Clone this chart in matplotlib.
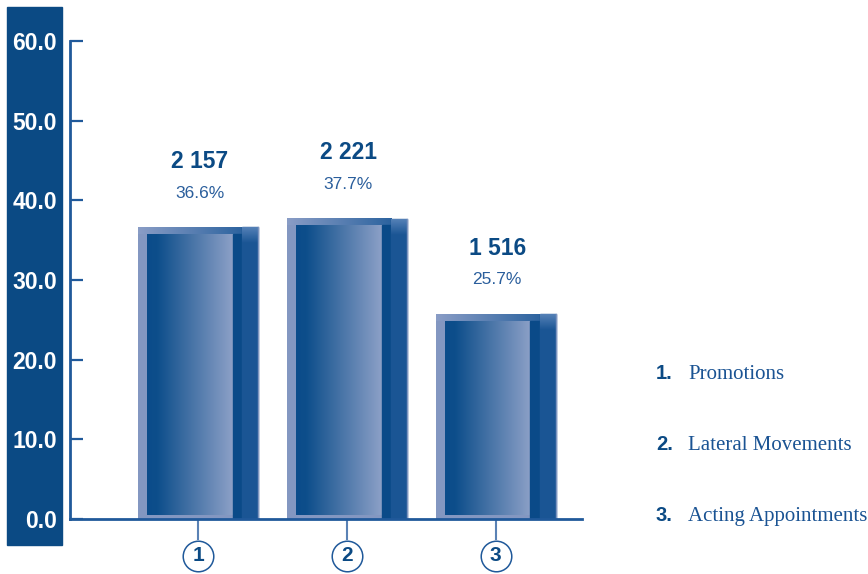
import matplotlib.pyplot as plt
import numpy as np
from matplotlib.colors import LinearSegmentedColormap
from matplotlib.patches import Rectangle

# Appointment types, counts and share of total
categories = ["Promotions", "Lateral Movements", "Acting Appointments"]
markers = ["1", "2", "3"]
shares = [36.6, 37.7, 25.7]
counts = ["2 157", "2 221", "1 516"]
yticks = [0, 10, 20, 30, 40, 50, 60]

NAVY = "#0b4a84"
DARK = "#0a4a88"
SIDE = "#1a5594"
LIGHT = "#8397c1"
LINE = "#20599a"

plt.rcParams["font.family"] = ["Liberation Sans", "DejaVu Sans"]

W, H = 868, 574
fig = plt.figure(figsize=(W / 100, H / 100), dpi=100)

# Dark band behind the y tick labels
fig.add_artist(Rectangle((7 / W, 1 - 545 / H), 55 / W, 538 / H,
                         transform=fig.transFigure, color=NAVY, zorder=0))

ax = fig.add_axes([70 / W, 1 - 519 / H, 512 / W, 478 / H])
ax.set_facecolor("none")

x = np.arange(len(shares))
width = 0.806
bars = ax.bar(x, shares, width=width, color=LIGHT, zorder=2)

face_cmap = LinearSegmentedColormap.from_list(
    "face", [(0, "#0b4c8a"), (0.12, "#0d4e8b"), (1, "#8ca0c7")])
top_cmap = LinearSegmentedColormap.from_list("top", [(0, "#8a9dc6"), (1, "#2c639f")])
side_cmap = LinearSegmentedColormap.from_list("side", [SIDE, "#5581b7"])
grad = np.linspace(0, 1, 256).reshape(1, -1)
side_grad = np.linspace(1, 0, 64).reshape(-1, 1)

for b in bars:
    x0 = b.get_x()
    w = b.get_width()
    h = b.get_height()
    top_band = 0.85
    bottom_band = 0.55
    # top bevel
    ax.imshow(grad, cmap=top_cmap, aspect="auto", zorder=3,
              extent=(x0, x0 + 0.867 * w, h - top_band, h))
    # front face gradient
    ax.imshow(grad, cmap=face_cmap, aspect="auto", zorder=3,
              extent=(x0 + 0.075 * w, x0 + 0.79 * w, bottom_band, h - top_band))
    # dark strip and side panel
    ax.add_patch(Rectangle((x0 + 0.79 * w, 0), 0.077 * w, h - top_band,
                           color=DARK, zorder=3))
    ax.add_patch(Rectangle((x0 + 0.867 * w, 0), 0.133 * w, h,
                           color=SIDE, zorder=3))
    ax.imshow(side_grad, cmap=side_cmap, aspect="auto", zorder=3.5,
              extent=(x0 + 0.867 * w, x0 + w, h - 2.0, h))
    ax.plot([x0 + w, x0 + w], [0, h], color="#7d94bf", lw=1, zorder=3.6)

for xi, s, c in zip(x, shares, counts):
    ax.text(xi + 0.01, s + 8.3, c, ha="center", va="center", fontsize=16.5,
            fontweight="bold", color=NAVY)
    ax.text(xi + 0.01, s + 4.3, f"{s}%", ha="center", va="center", fontsize=12.5,
            color="#2a5e9c")

# Numbered circles under each bar
for xi, m in zip(x, markers):
    ax.plot([xi, xi], [0, -2.5], color="#5a82b5", lw=1.5, clip_on=False, zorder=1)
    ax.plot(xi, -4.6, marker="o", markersize=22, markerfacecolor="white",
            markeredgecolor=LINE, markeredgewidth=1.1, clip_on=False, zorder=4)
    ax.text(xi, -4.6, m, ha="center", va="center", fontsize=15,
            fontweight="bold", color=NAVY, zorder=5)

ax.set_xlim(-0.86, 2.58)
ax.set_ylim(0, 60)
ax.set_xticks([])
ax.set_yticks(yticks)
ax.set_yticklabels([f"{v:.1f}" for v in yticks])
for sp in ["top", "right"]:
    ax.spines[sp].set_visible(False)
for sp in ["left", "bottom"]:
    ax.spines[sp].set_color(LINE)
    ax.spines[sp].set_linewidth(2)
    ax.spines[sp].set_zorder(5)
ax.tick_params(axis="y", direction="in", length=9, width=1.6, color=LINE,
               pad=9.5, labelsize=16.5, labelcolor="white")
for lbl in ax.get_yticklabels():
    lbl.set_fontweight("bold")

# Legend at the right
for i, (m, name) in enumerate(zip(markers, categories)):
    yb = 1 - (379 + 71 * i) / H
    fig.text(656 / W, yb, f"{m}.", ha="left", va="baseline", fontsize=14.5,
             fontweight="bold", color=NAVY)
    fig.text(688 / W, yb, name, ha="left", va="baseline", fontsize=15,
             family="Liberation Serif", color="#1a5393")

fig.savefig("out.png", dpi=100)
